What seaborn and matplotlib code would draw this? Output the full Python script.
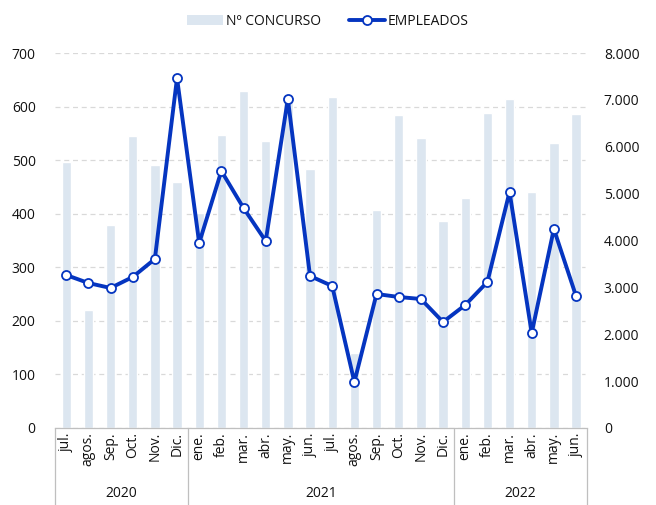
import numpy as np
import pandas as pd
import matplotlib
matplotlib.use('Agg')
import matplotlib.pyplot as plt
import matplotlib.ticker as mticker
import matplotlib.transforms as mtransforms
from matplotlib.lines import Line2D
from matplotlib.patches import Patch
import seaborn as sns

# data (jul 2020 - jun 2022)
months = ['jul.', 'agos.', 'Sep.', 'Oct.', 'Nov.', 'Dic.',
          'ene.', 'feb.', 'mar.', 'abr.', 'may.', 'jun.',
          'jul.', 'agos.', 'Sep.', 'Oct.', 'Nov.', 'Dic.',
          'ene.', 'feb.', 'mar.', 'abr.', 'may.', 'jun.']
years = ['2020', '2021', '2022']
year_counts = [6, 12, 6]
concurso = [496, 221, 379, 545, 491, 459,
            401, 547, 629, 535, 610, 483,
            618, 140, 407, 584, 541, 386,
            429, 588, 614, 440, 532, 586]
empleados = [3264, 3093, 2987, 3221, 3605, 7465,
             3947, 5483, 4693, 3989, 7019, 3243,
             3029, 981, 2859, 2795, 2752, 2261,
             2624, 3115, 5035, 2027, 4245, 2816]

df = pd.DataFrame({'pos': range(len(months)), 'mes': months,
                   'concurso': concurso, 'empleados': empleados})

sns.set_style('white')
plt.rcParams['font.family'] = ['Open Sans', 'DejaVu Sans']

bar_color = '#dce6f0'
line_color = '#0535c0'
txt_color = '#111111'
fs = 10

fig = plt.figure(figsize=(6.56, 5.05), dpi=100)
ax = fig.add_axes([0.084, 0.1525, 0.811, 0.7425])

sns.barplot(data=df, x='pos', y='concurso', color=bar_color, width=0.42,
            saturation=1, ax=ax, zorder=2)
ax.set_xlim(-0.5, len(months) - 0.5)
ax.set_ylim(0, 700)
ax.set_yticks(range(0, 701, 100))
ax.yaxis.grid(True, color='#d9d9d9', linestyle=(0, (4, 3)), linewidth=0.9, zorder=0)
ax.set_axisbelow(True)
ax.set_xticks(range(len(months)))
ax.set_xticklabels(months, rotation=90, fontsize=fs, color=txt_color)
ax.tick_params(axis='y', labelsize=fs, colors=txt_color, length=0, pad=14)
ax.tick_params(axis='x', length=0, pad=3)
ax.set_xlabel('')
ax.set_ylabel('')
for s in ['top', 'right', 'left']:
    ax.spines[s].set_visible(False)
ax.spines['bottom'].set_color('#bfbfbf')
ax.spines['bottom'].set_linewidth(0.9)

ax2 = ax.twinx()
sns.lineplot(data=df, x='pos', y='empleados', color=line_color, linewidth=2.8,
             marker='o', markersize=6.5, markerfacecolor='white',
             markeredgecolor=line_color, markeredgewidth=1.3, ax=ax2, zorder=3)
ax2.set_ylim(0, 8000)
ax2.set_yticks(range(0, 8001, 1000))
ax2.yaxis.set_major_formatter(mticker.FuncFormatter(lambda v, p: f'{int(v):,}'.replace(',', '.')))
ax2.tick_params(axis='y', labelsize=fs, colors=txt_color, length=0, pad=12)
ax2.set_ylabel('')
for s in ax2.spines.values():
    s.set_visible(False)
ax2.grid(False)

# year groups under the month labels
trans = mtransforms.blended_transform_factory(ax.transData, ax.transAxes)
edges = np.concatenate([[0], np.cumsum(year_counts)]) - 0.5
for e in edges:
    ax.add_line(Line2D([e, e], [0, -0.205], transform=trans, color='#bfbfbf',
                       linewidth=0.9, clip_on=False))
for yr, a, b in zip(years, edges[:-1], edges[1:]):
    ax.text((a + b) / 2, -0.176, yr, transform=trans, ha='center', va='center',
            fontsize=fs, color=txt_color)

handles = [Patch(facecolor=bar_color, edgecolor='none'),
           Line2D([], [], color=line_color, linewidth=2.8, marker='o', markersize=6.5,
                  markerfacecolor='white', markeredgecolor=line_color, markeredgewidth=1.3)]
fig.legend(handles, ['Nº CONCURSO', 'EMPLEADOS'], loc='upper center',
           bbox_to_anchor=(0.5, 0.997), ncol=2, frameon=False, fontsize=fs,
           handlelength=2.6, handletextpad=0.2, columnspacing=2.0, labelcolor=txt_color)

fig.savefig('out.png', dpi=100)
